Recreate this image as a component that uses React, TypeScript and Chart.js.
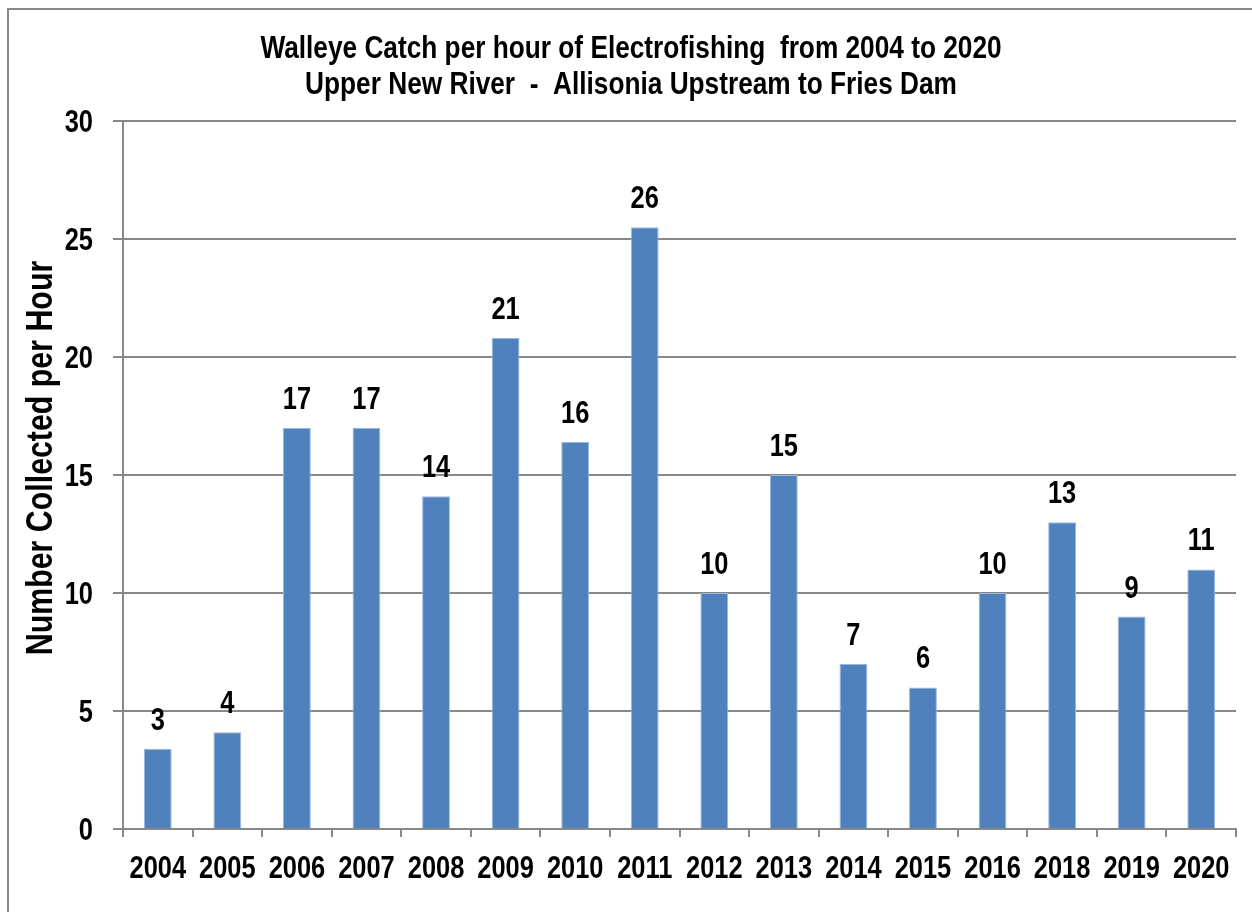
import React, { useEffect, useRef } from "react";
import { Chart, registerables } from "chart.js";

Chart.register(...registerables);

const years = ["2004", "2005", "2006", "2007", "2008", "2009", "2010", "2011", "2012", "2013", "2014", "2015", "2016", "2018", "2019", "2020"];
const catchPerHour = [3.4, 4.1, 17, 17, 14.1, 20.8, 16.4, 25.5, 10, 15, 7, 6, 10, 13, 9, 11];
const titleLines = ["Walleye Catch per hour of Electrofishing  from 2004 to 2020", "Upper New River  -  Allisonia Upstream to Fries Dam"];
const yAxisTitle = "Number Collected per Hour";
const yTicks = [0, 5, 10, 15, 20, 25, 30];

// Arial Narrow look-alike: Liberation Sans Bold squeezed horizontally
const FONT = '"Liberation Sans", Arial, sans-serif';
const NARROW = 0.82;
const GRAY = "#888888";
const BAR = "#4F81BD";

function narrowText(ctx: CanvasRenderingContext2D, text: string, x: number, y: number, size: number, align: CanvasTextAlign, rotate = 0) {
  ctx.save();
  ctx.font = `bold ${size}px ${FONT}`;
  ctx.fillStyle = "#000000";
  ctx.textAlign = align;
  ctx.textBaseline = "alphabetic";
  ctx.translate(x, y);
  if (rotate) ctx.rotate(rotate);
  ctx.scale(NARROW, 1);
  ctx.fillText(text, 0, 0);
  ctx.restore();
}

const framePlugin = {
  id: "frame",
  beforeDraw(chart: any) {
    const ctx = chart.ctx;
    ctx.save();
    ctx.fillStyle = "#ffffff";
    ctx.fillRect(0, 0, chart.width, chart.height);
    ctx.strokeStyle = GRAY;
    ctx.lineWidth = 2;
    ctx.beginPath();
    ctx.moveTo(8, chart.height);
    ctx.lineTo(8, 9);
    ctx.lineTo(chart.width, 9);
    ctx.stroke();
    ctx.restore();
  },
};

const textPlugin = {
  id: "texts",
  afterDraw(chart: any) {
    const ctx = chart.ctx as CanvasRenderingContext2D;
    const xs = chart.scales.x;
    const ys = chart.scales.y;
    const area = chart.chartArea;
    const cx = 631;

    // chart title
    narrowText(ctx, titleLines[0], cx, 58, 32, "center");
    narrowText(ctx, titleLines[1], cx, 94, 32, "center");

    // y tick labels
    yTicks.forEach((v) => {
      narrowText(ctx, String(v), area.left - 30, ys.getPixelForValue(v) + 11, 31, "right");
    });

    // x tick labels
    years.forEach((label, i) => {
      narrowText(ctx, label, xs.getPixelForTick(i), area.bottom + 49, 31, "center");
    });

    // bar value labels
    const meta = chart.getDatasetMeta(0);
    meta.data.forEach((bar: any, i: number) => {
      narrowText(ctx, String(Math.round(catchPerHour[i])), bar.x, bar.y - 19, 31, "center");
    });

    // y axis title
    narrowText(ctx, yAxisTitle, 52, (area.top + area.bottom) / 2 - 17, 37, "center", -Math.PI / 2);
  },
};

export default function App() {
  const ref = useRef<HTMLCanvasElement | null>(null);

  useEffect(() => {
    if (!ref.current) return;
    const chart = new Chart(ref.current, {
      type: "bar",
      data: {
        labels: years,
        datasets: [
          {
            data: catchPerHour,
            backgroundColor: BAR,
            borderColor: "#9BB8DD",
            borderWidth: 1,
            categoryPercentage: 1,
            barPercentage: 0.4,
          },
        ],
      },
      options: {
        responsive: false,
        animation: false,
        layout: { padding: { left: 26, right: 16, top: 121, bottom: 0 } },
        plugins: {
          legend: { display: false },
          tooltip: { enabled: false },
          title: { display: false },
        },
        scales: {
          x: {
            afterFit(scale: any) {
              scale.height = 83;
            },
            grid: {
              display: true,
              drawOnChartArea: false,
              drawTicks: true,
              tickLength: 8,
              color: GRAY,
              lineWidth: 2,
              offset: true,
            },
            border: { display: true, color: GRAY, width: 2 },
            ticks: { display: false, autoSkip: false, maxRotation: 0 },
          },
          y: {
            min: 0,
            max: 30,
            afterFit(scale: any) {
              scale.width = 97;
            },
            afterBuildTicks(scale: any) {
              scale.ticks = yTicks.map((v) => ({ value: v }));
            },
            grid: {
              color: GRAY,
              lineWidth: 2,
              drawTicks: true,
              tickLength: 10,
            },
            border: { display: true, color: GRAY, width: 2 },
            ticks: { display: false },
          },
        },
      },
      plugins: [framePlugin, textPlugin],
    });
    return () => chart.destroy();
  }, []);

  return (
    <div style={{ position: "absolute", left: 0, top: 0, width: 1252, height: 912 }}>
      <canvas ref={ref} width={1252} height={912} style={{ display: "block" }} />
    </div>
  );
}
